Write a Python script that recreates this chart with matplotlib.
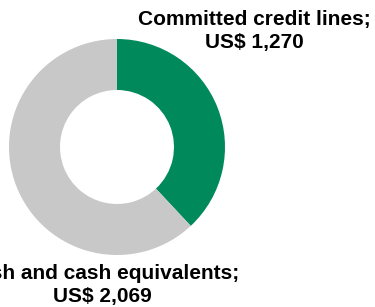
import matplotlib.pyplot as plt

# DATA
labels = ["Committed credit lines;\nUS$ 1,270", "Cash and cash equivalents;\nUS$ 2,069"]
values = [1270, 2069]
colors = ["#008A5B", "#C8C8C8"]

plt.rcParams['font.family'] = ['Liberation Sans', 'DejaVu Sans']

fig = plt.figure(figsize=(3.75, 3.07), dpi=100)
ax = fig.add_axes([0, 0, 1, 1])

# DONUT
ax.pie(values, colors=colors, startangle=90, counterclock=False,
       center=(117, 160), radius=108, frame=True,
       wedgeprops=dict(width=51, linewidth=0))
ax.set_xlim(0, 375)
ax.set_ylim(0, 307)
ax.set_aspect('equal')
ax.axis('off')

# LABELS
ax.text(254, 276, labels[0], ha='center', va='center', fontsize=15,
        fontweight='bold', linespacing=1.27)
ax.text(102, 22, labels[1], ha='center', va='center', fontsize=15,
        fontweight='bold', linespacing=1.27)

plt.savefig("out.png", dpi=100)
